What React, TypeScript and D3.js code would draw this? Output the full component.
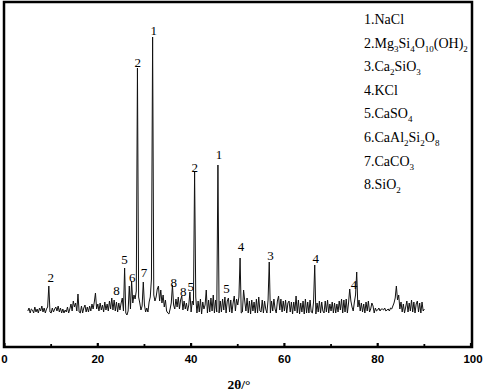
import React from "react";
import * as d3 from "d3";

// XRD pattern: intensity (a.u.) sampled every 0.25° from 5° to 90°
const startAngle = 5;
const stepAngle = 0.25;
const intensity: number[] = [
  36, 39, 34, 38, // 5
  37, 34, 40, 35, // 6
  38, 34, 39, 36, // 7
  41, 35, 39, 34, // 8
  38, 40, 61, 35, // 9
  34, 39, 35, 38, // 10
  40, 36, 41, 35, // 11
  39, 34, 38, 34, // 12
  37, 35, 40, 34, // 13
  38, 43, 36, 46, // 14
  40, 44, 36, 53, // 15
  35, 34, 41, 34, // 16
  39, 42, 35, 40, // 17
  35, 41, 36, 43, // 18
  38, 45, 54, 38, // 19
  43, 36, 44, 37, // 20
  42, 35, 45, 37, // 21
  43, 36, 46, 38, // 22
  49, 37, 47, 36, // 23
  45, 35, 44, 37, // 24
  44, 49, 36, 79, // 25
  34, 32, 36, 61, // 26
  38, 66, 44, 52, // 27
  48, 56, 279, 50, // 28
  44, 37, 41, 65, // 29
  42, 35, 39, 35, // 30
  45, 50, 68, 310, // 31
  52, 46, 50, 58, // 32
  61, 46, 57, 44, // 33
  52, 40, 47, 36, // 34
  34, 33, 38, 44, // 35
  62, 42, 38, 48, // 36
  40, 50, 38, 47, // 37
  51, 37, 46, 38, // 38
  44, 36, 42, 55, // 39
  35, 46, 42, 175, // 40
  50, 34, 46, 35, // 41
  48, 33, 45, 38, // 42
  42, 57, 34, 47, // 43
  35, 49, 36, 52, // 44
  34, 47, 35, 182, // 45
  34, 46, 35, 48, // 46
  37, 50, 34, 46, // 47
  49, 35, 47, 34, // 48
  44, 51, 36, 48, // 49
  42, 50, 89, 34, // 50
  35, 57, 46, 36, // 51
  49, 34, 46, 33, // 52
  47, 36, 45, 34, // 53
  48, 34, 50, 36, // 54
  35, 47, 34, 46, // 55
  38, 34, 47, 85, // 56
  34, 46, 36, 48, // 57
  38, 34, 46, 51, // 58
  37, 48, 35, 46, // 59
  36, 47, 34, 44, // 60
  46, 35, 45, 33, // 61
  45, 36, 51, 34, // 62
  47, 33, 44, 35, // 63
  46, 33, 48, 34, // 64
  45, 34, 47, 35, // 65
  34, 45, 82, 33, // 66
  44, 35, 46, 34, // 67
  45, 36, 34, 46, // 68
  35, 47, 34, 43, // 69
  36, 45, 34, 44, // 70
  34, 43, 35, 46, // 71
  37, 48, 34, 47, // 72
  35, 48, 34, 44, // 73
  58, 46, 40, 36, // 74
  45, 52, 75, 40, // 75
  47, 36, 44, 35, // 76
  43, 34, 45, 36, // 77
  46, 35, 38, 44, // 78
  41, 34, 39, 36, // 79
  37, 39, 36, 38, // 80
  38, 37, 39, 36, // 81
  37, 38, 36, 39, // 82
  38, 41, 44, 49, // 83
  61, 47, 52, 38, // 84
  45, 35, 43, 34, // 85
  40, 46, 35, 44, // 86
  36, 47, 35, 45, // 87
  34, 43, 46, 35, // 88
  44, 34, 45, 36, // 89
  38, // 90
];

// Peak labels: angle, intensity level of label baseline, phase number
const peakLabelAngles = [9.9, 24.0, 25.7, 27.4, 29.9, 28.55, 32.0, 36.3, 38.3, 39.9, 40.8, 46.0, 47.6, 50.7, 57.0, 66.7, 74.9];
const peakLabelLevels = [65, 52, 83, 65, 70, 280, 312, 60, 51, 56, 175, 188, 54, 96, 87, 84, 58];
const peakLabelTexts = ["2", "8", "5", "6", "7", "2", "1", "8", "8", "5", "2", "1", "5", "4", "3", "4", "4"];

// Legend entries as segments: [text, isSubscript]
const legendEntries: [string, boolean][][] = [
  [["1.NaCl", false]],
  [["2.Mg", false], ["3", true], ["Si", false], ["4", true], ["O", false], ["10", true], ["(OH)", false], ["2", true]],
  [["3.Ca", false], ["2", true], ["SiO", false], ["3", true]],
  [["4.KCl", false]],
  [["5.CaSO", false], ["4", true]],
  [["6.CaAl", false], ["2", true], ["Si", false], ["2", true], ["O", false], ["8", true]],
  [["7.CaCO", false], ["3", true]],
  [["8.SiO", false], ["2", true]],
];

const xTicks = [0, 20, 40, 60, 80, 100];
const xMinorTicks = [10, 30, 50, 70, 90];
const xTitle = "2θ/°";

export default function App() {
  const W = 484;
  const H = 391;
  const left = 4.5;
  const right = 471;
  const top = 2;
  const bottom = 347;
  const frameRight = 472;

  const x = d3.scaleLinear().domain([0, 100]).range([left, right]);
  const y = d3.scaleLinear().domain([0, 345]).range([bottom, top]);

  const pts: [number, number][] = intensity.map((v, i) => [startAngle + i * stepAngle, v]);
  const line = d3
    .line<[number, number]>()
    .x((d) => x(d[0]))
    .y((d) => y(d[1]));

  const serif = "'Liberation Serif', 'Times New Roman', serif";
  const sans = "'Liberation Sans', Arial, sans-serif";

  return (
    <svg
      width={W}
      height={H}
      style={{ position: "absolute", left: 0, top: 0, background: "#fff" }}
    >
      <rect x={0} y={0} width={W} height={H} fill="#fff" />
      <path d={line(pts) || ""} fill="none" stroke="#111" strokeWidth={1} />
      {/* frame */}
      <rect
        x={4}
        y={top}
        width={frameRight - 4}
        height={bottom - top}
        fill="none"
        stroke="#000"
        strokeWidth={2.5}
      />
      {/* ticks */}
      {xTicks.map((t) => (
        <line key={"M" + t} x1={x(t)} x2={x(t)} y1={bottom} y2={bottom - 4} stroke="#000" strokeWidth={2.2} />
      ))}
      {xMinorTicks.map((t) => (
        <line key={"m" + t} x1={x(t)} x2={x(t)} y1={bottom} y2={bottom - 3} stroke="#000" strokeWidth={1.8} />
      ))}
      {xTicks.map((t) => (
        <text
          key={"l" + t}
          x={t === 100 ? x(t) + 2 : x(t)}
          y={363}
          textAnchor="middle"
          fontFamily={sans}
          fontWeight="bold"
          fontSize={11.5}
          fill="#000"
        >
          {t}
        </text>
      ))}
      <text x={239} y={389} textAnchor="middle" fontFamily={serif} fontWeight="bold" fontSize={13.5} fill="#000">
        {xTitle}
      </text>
      {/* peak labels */}
      {peakLabelTexts.map((t, i) => (
        <text
          key={"p" + i}
          x={x(peakLabelAngles[i])}
          y={y(peakLabelLevels[i])}
          textAnchor="middle"
          fontFamily={serif}
          fontSize={13}
          fill="#000"
        >
          {t}
        </text>
      ))}
      {/* legend */}
      {legendEntries.map((segs, i) => (
        <text key={"g" + i} x={364} y={24 + i * 23.6} fontFamily={serif} fontSize={14} fill="#000">
          {segs.map(([s, sub], j) =>
            sub ? (
              <tspan key={j} fontSize={9} dy={4}>
                {s}
              </tspan>
            ) : (
              <tspan key={j} dy={j > 0 && segs[j - 1][1] ? -4 : 0}>
                {s}
              </tspan>
            )
          )}
        </text>
      ))}
    </svg>
  );
}
